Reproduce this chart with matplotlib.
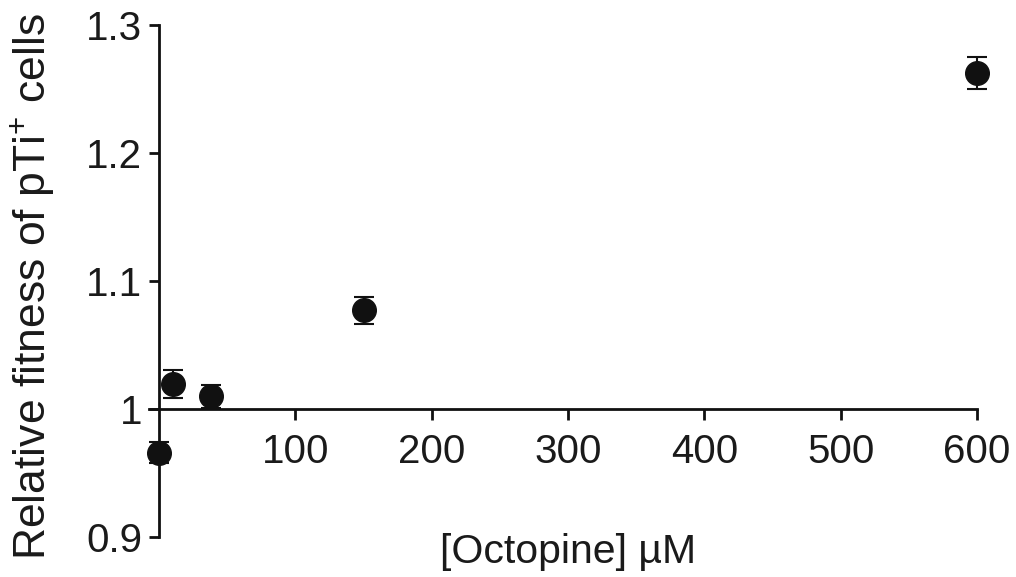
import matplotlib
matplotlib.use("Agg")
import matplotlib.pyplot as plt

# Data
octopine_uM = [0, 10, 38, 150, 600]
fitness = [0.966, 1.0195, 1.010, 1.077, 1.2625]
fitness_err = [0.008, 0.011, 0.009, 0.0105, 0.0125]
x_ticks = [100, 200, 300, 400, 500, 600]
y_ticks = [0.9, 1.0, 1.1, 1.2, 1.3]
y_ticklabels = ["0.9", "1", "1.1", "1.2", "1.3"]

plt.rcParams['font.family'] = ['Liberation Sans', 'DejaVu Sans']
plt.rcParams['mathtext.fontset'] = 'custom'
plt.rcParams['mathtext.rm'] = 'Liberation Sans'
plt.rcParams['mathtext.it'] = 'Liberation Sans'
text_color = '#1a1a1a'

fig = plt.figure(figsize=(10.16, 5.77), dpi=100)
ax = fig.add_axes([159/1016, 40/577, (977-159)/1016, (537-25)/577])

ax.errorbar(octopine_uM, fitness, yerr=fitness_err, fmt='o', color='#111111',
            markersize=17, capsize=7, elinewidth=1.5, capthick=1.5, clip_on=False, zorder=3)

ax.set_xlim(0, 600)
ax.set_ylim(0.9, 1.3)
ax.spines['top'].set_visible(False)
ax.spines['right'].set_visible(False)
ax.spines['bottom'].set_position(('data', 1.0))
ax.spines['bottom'].set_bounds(-7, 600)
ax.spines['left'].set_linewidth(2)
ax.spines['bottom'].set_linewidth(2)
ax.spines['left'].set_color('#111111')
ax.spines['bottom'].set_color('#111111')

ax.set_xticks(x_ticks)
ax.set_yticks(y_ticks)
ax.set_yticklabels(y_ticklabels)
ax.tick_params(axis='x', direction='out', length=8, width=2, labelsize=29, pad=9,
               colors='#111111', labelcolor=text_color)
ax.tick_params(axis='y', direction='out', length=7, width=2, labelsize=29, pad=5,
               colors='#111111', labelcolor=text_color)

fig.text(32/1016, 1 - 287/577, r'Relative fitness of pTi$^{+}$ cells', rotation=90,
         ha='center', va='center', fontsize=32, color=text_color)
fig.text(568/1016, 1 - 552/577, '[Octopine] µM', ha='center', va='center',
         fontsize=29.5, color=text_color)

fig.savefig('out.png', dpi=100)
